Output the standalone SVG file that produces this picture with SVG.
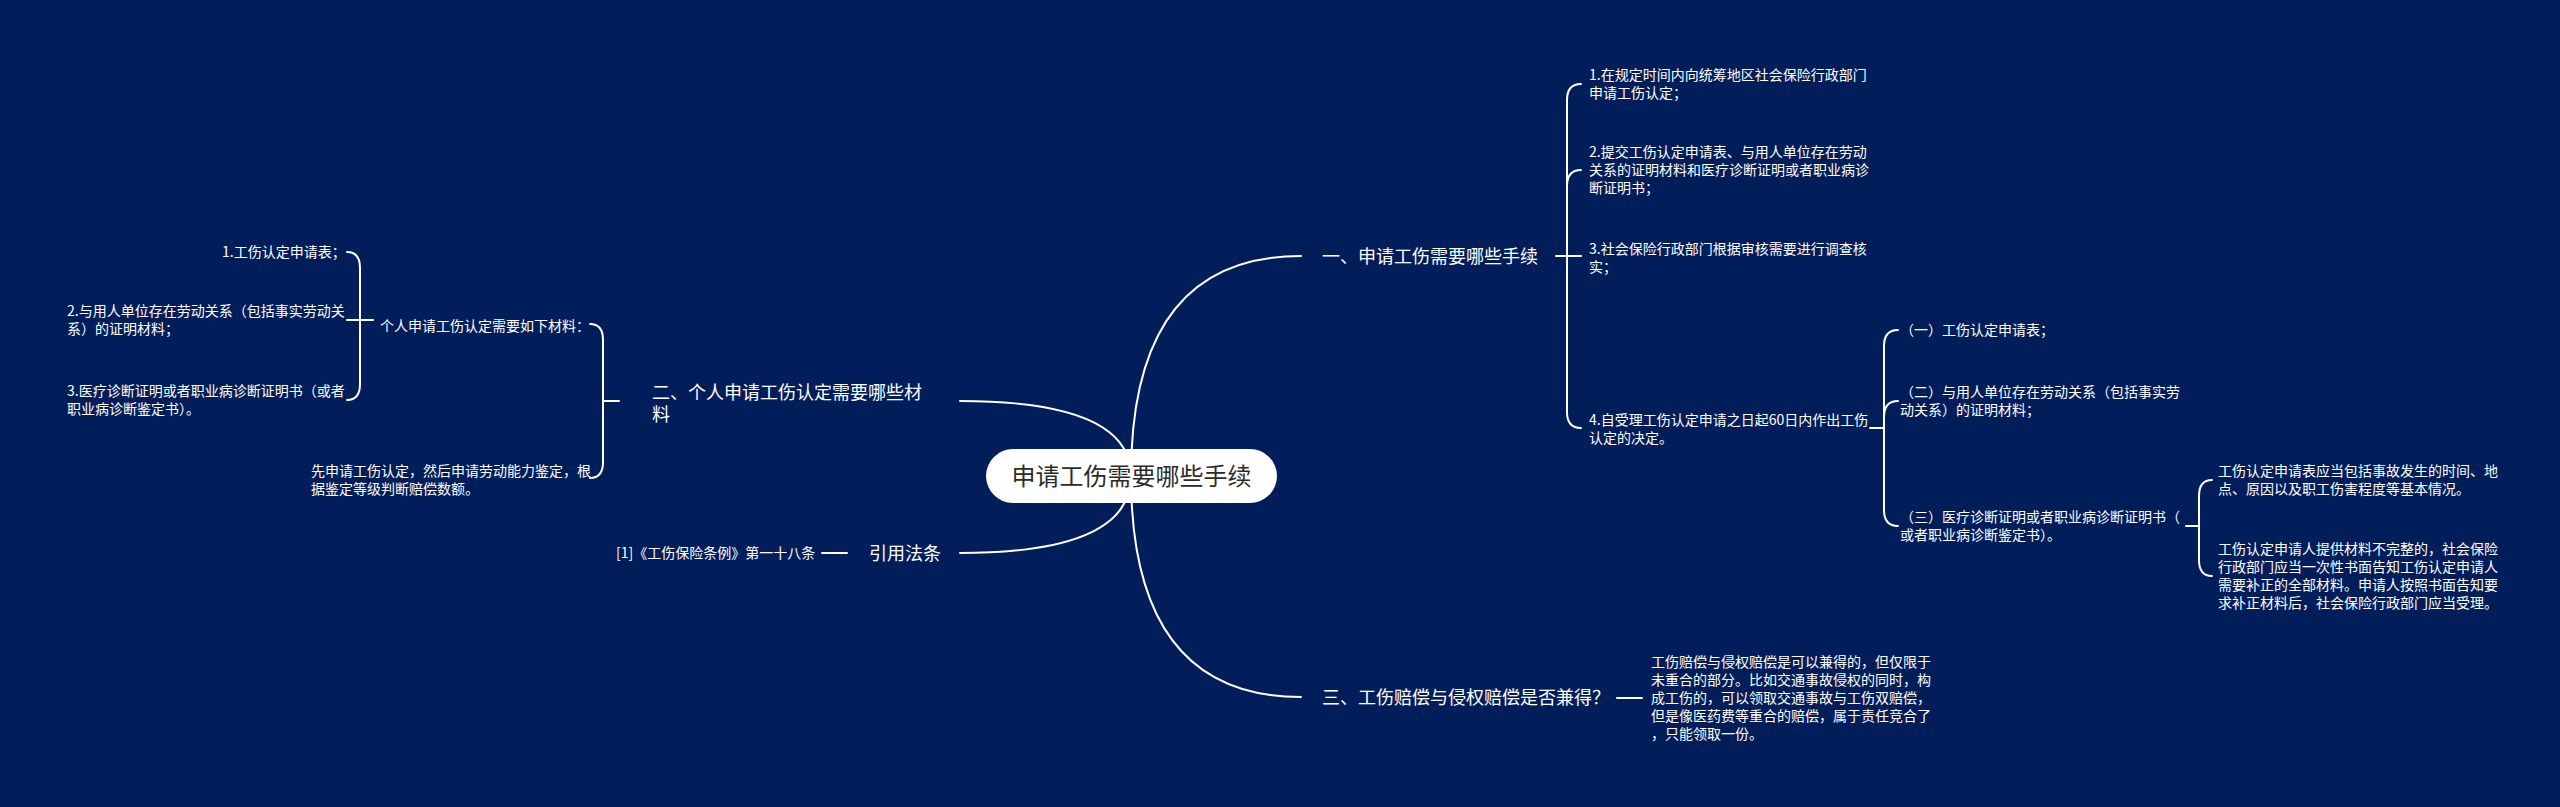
<svg xmlns="http://www.w3.org/2000/svg" width="2560" height="807" viewBox="0 0 2560 807">
<style>
.bg{fill:#021e5a}
.ln{fill:none;stroke:#ffffff;stroke-width:2;stroke-linecap:round}
.t{font-family:"Noto Sans CJK SC","Noto Sans",sans-serif;fill:#ffffff}
.s{font-size:14px}
.m{font-size:18px}
.rootbox{fill:#ffffff}
.roottext{font-family:"Noto Sans CJK SC","Noto Sans",sans-serif;font-size:24px;fill:#2b2b2b}
</style>
<rect class="bg" x="0" y="0" width="2560" height="807"/>
<g id="connectors">
  <path class="ln" d="M1131,476 Q1131,256 1301,256"/>
  <path class="ln" d="M1131,476 Q1131,697 1301,697"/>
  <path class="ln" d="M960,401 Q1131,401 1131,476"/>
  <path class="ln" d="M960,553 Q1131,553 1131,476"/>
  <path class="ln" d="M1556,256 H1567"/>
  <path class="ln" d="M1567,256 V100 Q1567,84 1581,84"/>
  <path class="ln" d="M1567,256 V186 Q1567,170 1581,170"/>
  <path class="ln" d="M1567,256 H1581"/>
  <path class="ln" d="M1567,256 V412 Q1567,428 1581,428"/>
  <path class="ln" d="M1870,428 H1884"/>
  <path class="ln" d="M1884,428 V346 Q1884,330 1898,330"/>
  <path class="ln" d="M1884,428 V417 Q1884,401 1898,401"/>
  <path class="ln" d="M1884,428 V510 Q1884,526 1898,526"/>
  <path class="ln" d="M2186,526 H2199"/>
  <path class="ln" d="M2199,526 V496 Q2199,480 2212,480"/>
  <path class="ln" d="M2199,526 V560 Q2199,576 2212,576"/>
  <path class="ln" d="M1617,698 H1642"/>
  <path class="ln" d="M619,401 H603"/>
  <path class="ln" d="M603,401 V340 Q603,324 590,324"/>
  <path class="ln" d="M603,401 V462 Q603,478 590,478"/>
  <path class="ln" d="M373,320 H360"/>
  <path class="ln" d="M360,320 V268 Q360,252 347,252"/>
  <path class="ln" d="M360,320 H347"/>
  <path class="ln" d="M360,320 V384 Q360,400 347,400"/>
  <path class="ln" d="M847,553 H822"/>
</g>
<g id="root">
  <rect class="rootbox" x="986" y="449" width="291" height="54" rx="27" ry="27"/>
  <text class="roottext" x="1131.5" y="485" text-anchor="middle">申请工伤需要哪些手续</text>
</g>
<g id="n-one">
  <text class="t m" x="1322" y="263">一、申请工伤需要哪些手续</text>
</g>
<g id="n-one-1">
  <text class="t s" x="1589"><tspan x="1589" y="80">1.在规定时间内向统筹地区社会保险行政部门</tspan><tspan x="1589" y="98">申请工伤认定；</tspan></text>
</g>
<g id="n-one-2">
  <text class="t s"><tspan x="1589" y="157">2.提交工伤认定申请表、与用人单位存在劳动</tspan><tspan x="1589" y="175">关系的证明材料和医疗诊断证明或者职业病诊</tspan><tspan x="1589" y="193">断证明书；</tspan></text>
</g>
<g id="n-one-3">
  <text class="t s"><tspan x="1589" y="254">3.社会保险行政部门根据审核需要进行调查核</tspan><tspan x="1589" y="272">实；</tspan></text>
</g>
<g id="n-one-4">
  <text class="t s"><tspan x="1589" y="425">4.自受理工伤认定申请之日起60日内作出工伤</tspan><tspan x="1589" y="443">认定的决定。</tspan></text>
</g>
<g id="n-one-4-1">
  <text class="t s" x="1900" y="335">（一）工伤认定申请表；</text>
</g>
<g id="n-one-4-2">
  <text class="t s"><tspan x="1900" y="397">（二）与用人单位存在劳动关系（包括事实劳</tspan><tspan x="1900" y="415">动关系）的证明材料；</tspan></text>
</g>
<g id="n-one-4-3">
  <text class="t s"><tspan x="1900" y="522">（三）医疗诊断证明或者职业病诊断证明书（</tspan><tspan x="1900" y="540">或者职业病诊断鉴定书）。</tspan></text>
</g>
<g id="n-one-4-3-1">
  <text class="t s"><tspan x="2218" y="476">工伤认定申请表应当包括事故发生的时间、地</tspan><tspan x="2218" y="494">点、原因以及职工伤害程度等基本情况。</tspan></text>
</g>
<g id="n-one-4-3-2">
  <text class="t s"><tspan x="2218" y="554">工伤认定申请人提供材料不完整的，社会保险</tspan><tspan x="2218" y="572">行政部门应当一次性书面告知工伤认定申请人</tspan><tspan x="2218" y="590">需要补正的全部材料。申请人按照书面告知要</tspan><tspan x="2218" y="608">求补正材料后，社会保险行政部门应当受理。</tspan></text>
</g>
<g id="n-three">
  <text class="t m" x="1322" y="704">三、工伤赔偿与侵权赔偿是否兼得？</text>
</g>
<g id="n-three-1">
  <text class="t s"><tspan x="1651" y="667">工伤赔偿与侵权赔偿是可以兼得的，但仅限于</tspan><tspan x="1651" y="685">未重合的部分。比如交通事故侵权的同时，构</tspan><tspan x="1651" y="703">成工伤的，可以领取交通事故与工伤双赔偿，</tspan><tspan x="1651" y="721">但是像医药费等重合的赔偿，属于责任竞合了</tspan><tspan x="1651" y="739">，只能领取一份。</tspan></text>
</g>
<g id="n-two">
  <text class="t m"><tspan x="652" y="399">二、个人申请工伤认定需要哪些材</tspan><tspan x="652" y="421">料</tspan></text>
</g>
<g id="n-two-1">
  <text class="t s" x="380" y="331">个人申请工伤认定需要如下材料：</text>
</g>
<g id="n-two-1-1">
  <text class="t s" x="222" y="257">1.工伤认定申请表；</text>
</g>
<g id="n-two-1-2">
  <text class="t s"><tspan x="67" y="316">2.与用人单位存在劳动关系（包括事实劳动关</tspan><tspan x="67" y="334">系）的证明材料；</tspan></text>
</g>
<g id="n-two-1-3">
  <text class="t s"><tspan x="67" y="396">3.医疗诊断证明或者职业病诊断证明书（或者</tspan><tspan x="67" y="414">职业病诊断鉴定书）。</tspan></text>
</g>
<g id="n-two-2">
  <text class="t s"><tspan x="311" y="476">先申请工伤认定，然后申请劳动能力鉴定，根</tspan><tspan x="311" y="494">据鉴定等级判断赔偿数额。</tspan></text>
</g>
<g id="n-law">
  <text class="t m" x="869" y="560">引用法条</text>
</g>
<g id="n-law-1">
  <text class="t s" x="616" y="558">[1]《工伤保险条例》第一十八条</text>
</g>
</svg>
